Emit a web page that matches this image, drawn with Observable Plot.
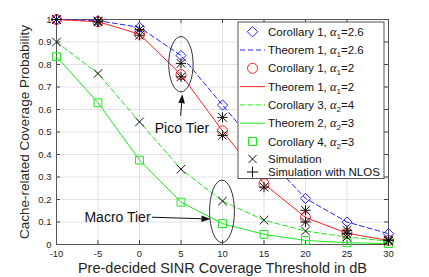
<!DOCTYPE html>
<html><head><meta charset="utf-8">
<script src="https://cdn.jsdelivr.net/npm/d3@7"></script>
<script src="https://cdn.jsdelivr.net/npm/@observablehq/plot@0.6"></script>
<style>body{margin:0;background:#fff;} svg{overflow:visible}</style>
</head><body><div id="chart"></div>
<script>
// ---- data ----
const snr = [-10, -5, 0, 5, 10, 15, 20, 25, 30];
const cor1_a26 = [1.0, 0.995, 0.965, 0.84, 0.62, 0.40, 0.205, 0.10, 0.048];
const thm1_a26 = [1.0, 0.995, 0.965, 0.84, 0.62, 0.40, 0.205, 0.10, 0.048];
const cor1_a2 = [1.0, 0.99, 0.935, 0.755, 0.505, 0.27, 0.12, 0.05, 0.018];
const thm1_a2 = [1.0, 0.99, 0.935, 0.755, 0.505, 0.27, 0.12, 0.05, 0.018];
const cor3_a4 = [0.90, 0.76, 0.545, 0.335, 0.193, 0.108, 0.06, 0.033, 0.015];
const thm2_a3 = [0.835, 0.63, 0.375, 0.188, 0.093, 0.045, 0.018, 0.008, 0.004];
const cor4_a3 = [0.835, 0.63, 0.375, 0.188, 0.093, 0.045, 0.018, 0.008, 0.004];
const simPico26 = [1.0, 0.993, 0.955, 0.805, 0.565, 0.375, 0.152, 0.063, 0.02];
const simPico2 = [1.0, 0.99, 0.93, 0.745, 0.485, 0.255, 0.10, 0.048, 0.018];
const simMacro4 = [0.90, 0.76, 0.545, 0.335, 0.193, 0.108, 0.06, 0.033, 0.015];

const xTicks = [-10, -5, 0, 5, 10, 15, 20, 25, 30];
const yTicks = [0, 0.1, 0.2, 0.3, 0.4, 0.5, 0.6, 0.7, 0.8, 0.9, 1];
const xLabel = "Pre-decided SINR Coverage Threshold in dB";
const yLabel = "Cache-related Coverage Probability";

const annotLabels = ["Pico Tier", "Macro Tier"];
const annotX = [5.12, -2.65];
const annotY = [0.516, 0.118];
const ellCx = [5.05, 10], ellCy = [0.799, 0.145], ellRx = [1.47, 1.5], ellRy = [0.123, 0.139];
const arrX1 = [5.02, 1.57], arrY1 = [0.57, 0.119], arrX2 = [5.22, 8.61], arrY2 = [0.666, 0.111];

const legendNames = ["Corollary 1, ", "Theorem 1, ", "Corollary 1, ", "Theorem 1, ", "Corollary 3, ", "Theorem 2, ", "Corollary 4, ", "Simulation", "Simulation with NLOS"];
const legendSubs = ["1", "1", "1", "1", "2", "2", "2", null, null];
const legendVals = ["2.6", "2.6", "2", "2", "4", "3", "3", null, null];

const BLUE = "#2424ff", RED = "#ff2222", GREEN = "#1de81d", BLACK = "#111111";
const FONT = "'Liberation Sans', Arial, Helvetica, sans-serif";

const plot = Plot.plot({
  width: 429, height: 277,
  marginLeft: 56, marginRight: 41, marginTop: 19, marginBottom: 33,
  style: {fontFamily: FONT, fontSize: "9.5px", color: "#262626", background: "white"},
  x: {domain: [-10, 30]},
  y: {domain: [0, 1]},
  marks: [
    Plot.ruleX(xTicks, {stroke: "#e2e2e2"}),
    Plot.ruleY(yTicks, {stroke: "#e2e2e2"}),
    Plot.axisX(xTicks, {tickSize: 0, tickPadding: 6, label: null, tickFormat: d => String(d)}),
    Plot.axisY(yTicks, {tickSize: 0, tickPadding: 5, label: null, tickFormat: d => String(d)}),
    Plot.ruleX(xTicks, {stroke: "#444", insetTop: 221}),
    Plot.ruleX(xTicks, {stroke: "#444", insetBottom: 221}),
    Plot.ruleY(yTicks, {stroke: "#444", insetRight: 328}),
    Plot.ruleY(yTicks, {stroke: "#444", insetLeft: 328}),
    Plot.frame({stroke: "#555"}),
    Plot.text([yLabel], {text: d => d, frameAnchor: "left", textAnchor: "middle", lineAnchor: "middle", rotate: -90, dx: -32, fontSize: 13.5, fill: "#262626"}),
    Plot.text([xLabel], {text: d => d, frameAnchor: "bottom", textAnchor: "middle", lineAnchor: "middle", dy: 24, fontSize: 14.5, fill: "#262626"}),
    // data
    Plot.dot(snr, {x: snr, y: cor1_a26, symbol: "diamond2", r: 4.6, stroke: BLUE, fill: "none", strokeWidth: 1}),
    Plot.line(snr, {x: snr, y: thm1_a26, stroke: BLUE, strokeWidth: 1, strokeDasharray: "5,3"}),
    Plot.dot(snr, {x: snr, y: cor1_a2, symbol: "circle", r: 5, stroke: RED, fill: "none", strokeWidth: 1}),
    Plot.line(snr, {x: snr, y: thm1_a2, stroke: RED, strokeWidth: 1}),
    Plot.line(snr, {x: snr, y: cor3_a4, stroke: GREEN, strokeWidth: 1, strokeDasharray: "5,3"}),
    Plot.line(snr, {x: snr, y: thm2_a3, stroke: GREEN, strokeWidth: 1}),
    Plot.dot(snr, {x: snr, y: cor4_a3, symbol: "square2", r: 5, stroke: GREEN, fill: "none", strokeWidth: 1}),
    Plot.dot(snr, {x: snr, y: simMacro4, symbol: "times", r: 4, stroke: BLACK, strokeWidth: 1}),
    Plot.dot(snr, {x: snr, y: simPico26, symbol: "times", r: 4, stroke: BLACK, strokeWidth: 1}),
    Plot.dot(snr, {x: snr, y: simPico2, symbol: "times", r: 4, stroke: BLACK, strokeWidth: 1}),
    Plot.dot(snr, {x: snr, y: simPico26, symbol: "plus", r: 3.4, stroke: BLACK, strokeWidth: 1}),
    Plot.dot(snr, {x: snr, y: simPico2, symbol: "plus", r: 3.4, stroke: BLACK, strokeWidth: 1}),
    Plot.text(annotLabels, {x: annotX, y: annotY, text: d => d, fontSize: 14, fill: "#111"})
  ]
});

document.getElementById("chart").appendChild(plot);
const svg = d3.select(plot);
const sx = plot.scale("x"), sy = plot.scale("y");
const X = v => sx.apply(v), Y = v => sy.apply(v);

// ellipses and arrows
const ann = svg.append("g");
ellCx.forEach((cx, i) => {
  ann.append("ellipse")
    .attr("cx", X(cx)).attr("cy", Y(ellCy[i]))
    .attr("rx", X(cx + ellRx[i]) - X(cx)).attr("ry", Y(ellCy[i] - ellRy[i]) - Y(ellCy[i]))
    .attr("fill", "none").attr("stroke", "#333").attr("stroke-width", 1);
});
arrX1.forEach((x1, i) => {
  const ax = X(x1), ay = Y(arrY1[i]), bx = X(arrX2[i]), by = Y(arrY2[i]);
  const len = Math.hypot(bx - ax, by - ay), ux = (bx - ax) / len, uy = (by - ay) / len;
  const L = 9, W = 3.3;
  const hx = bx - L * ux, hy = by - L * uy;
  ann.append("line").attr("x1", ax).attr("y1", ay).attr("x2", hx).attr("y2", hy)
    .attr("stroke", "#111").attr("stroke-width", 1);
  ann.append("path")
    .attr("d", `M${bx},${by}L${hx - W * uy},${hy + W * ux}L${hx + W * uy},${hy - W * ux}Z`)
    .attr("fill", "#111");
});

// legend
const frameRight = X(30), frameTop = Y(1);
const boxW = 146, boxH = 156.5;
const boxX = frameRight - 150, boxY = frameTop + 3;
const lg = svg.append("g").attr("font-family", FONT).attr("font-size", 11.5).attr("fill", "#111").attr("text-anchor", "start");
lg.append("rect").attr("x", boxX).attr("y", boxY).attr("width", boxW).attr("height", boxH)
  .attr("fill", "white").attr("stroke", "#555").attr("stroke-width", 1);
const rowOff = i => i < 7 ? 9.7 + i * 18.3 : (i === 7 ? 137 : 150);
const styles = [
  {sym: "diamond", c: BLUE}, {line: "5,3", c: BLUE}, {sym: "circle", c: RED}, {line: "", c: RED},
  {line: "5,3", c: GREEN}, {line: "", c: GREEN}, {sym: "square", c: GREEN}, {sym: "times", c: BLACK}, {sym: "plus", c: BLACK}
];
legendNames.forEach((name, i) => {
  const y = boxY + rowOff(i);
  const mx = boxX + 14.5;
  const s = styles[i];
  if (s.line !== undefined) {
    lg.append("line").attr("x1", boxX + 2).attr("x2", boxX + 27).attr("y1", y).attr("y2", y)
      .attr("stroke", s.c).attr("stroke-width", 1).attr("stroke-dasharray", s.line || null);
  } else {
    let d;
    if (s.sym === "diamond") d = `M${mx},${y - 5.2}L${mx + 5.2},${y}L${mx},${y + 5.2}L${mx - 5.2},${y}Z`;
    else if (s.sym === "square") d = `M${mx - 4},${y - 4}h8v8h-8Z`;
    else if (s.sym === "times") d = `M${mx - 4},${y - 4}L${mx + 4},${y + 4}M${mx + 4},${y - 4}L${mx - 4},${y + 4}`;
    else if (s.sym === "plus") d = `M${mx - 5.5},${y}H${mx + 5.5}M${mx},${y - 5.5}V${y + 5.5}`;
    if (s.sym === "circle") lg.append("circle").attr("cx", mx).attr("cy", y).attr("r", 5).attr("fill", "none").attr("stroke", s.c);
    else lg.append("path").attr("d", d).attr("fill", "none").attr("stroke", s.c).attr("stroke-width", 1);
  }
  const t = lg.append("text").attr("x", boxX + 30).attr("y", y + 4);
  t.append("tspan").text(name);
  if (legendSubs[i]) {
    t.append("tspan").attr("font-family", "'Liberation Serif', 'DejaVu Serif', serif").attr("font-style", "italic").attr("font-size", 12.5).text("α");
    t.append("tspan").attr("dy", 3).attr("font-size", 8).text(legendSubs[i]);
    t.append("tspan").attr("dy", -3).text("=" + legendVals[i]);
  }
});
</script>
</body></html>
